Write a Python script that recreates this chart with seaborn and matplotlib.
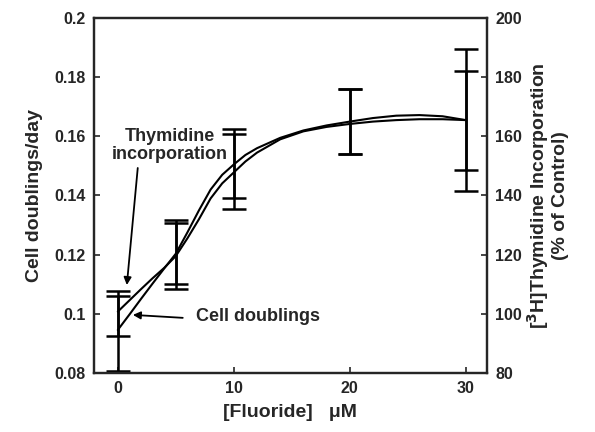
import matplotlib
matplotlib.use("Agg")
import matplotlib.pyplot as plt
import numpy as np
import pandas as pd
import seaborn as sns

# fitted curves (fluoride uM -> value)
curve_x = [0, 1, 2, 3, 4, 5, 6, 7, 8, 9, 10, 11, 12, 14, 16, 18, 20, 22, 24, 26, 28, 30]
cell_curve = [0.0945, 0.0997, 0.1050, 0.1102, 0.1153, 0.1203, 0.1275, 0.1350, 0.1420,
              0.1470, 0.1505, 0.1537, 0.1560, 0.1595, 0.1620, 0.1637, 0.1650, 0.1662,
              0.1670, 0.1672, 0.1668, 0.1655]
thym_curve = [100.7, 104.5, 108.3, 112.0, 115.5, 119.5, 125.5, 132.0, 139.0, 144.1,
              147.8, 151.5, 154.5, 159.0, 161.7, 163.2, 164.2, 165.0, 165.5, 165.8,
              165.8, 165.5]

# measured means with error bars
dose = [0, 5, 10, 20, 30]
cell_mean = [0.0933, 0.1200, 0.1490, 0.1650, 0.1655]
cell_err = [0.0128, 0.0117, 0.0136, 0.0110, 0.0240]
thym_mean = [100.1, 120.4, 150.0, 165.0, 165.3]
thym_err = [7.6, 10.3, 10.9, 11.0, 16.7]

sns.set_style("ticks")
plt.rcParams["font.family"] = ["Liberation Sans", "DejaVu Sans"]

fig = plt.figure(figsize=(5.95, 4.32), dpi=100)
ax = fig.add_axes([0.158, 0.137, 0.660, 0.821])
ax2 = ax.twinx()

curves = pd.DataFrame({"x": curve_x, "cell": cell_curve, "thym": thym_curve})
sns.lineplot(data=curves, x="x", y="cell", ax=ax, color="black", lw=1.5)
sns.lineplot(data=curves, x="x", y="thym", ax=ax2, color="black", lw=1.5)

ax.errorbar(dose, cell_mean, yerr=cell_err, fmt="none", ecolor="black",
            elinewidth=1.8, capsize=8.5, capthick=1.8)
ax2.errorbar(dose, thym_mean, yerr=thym_err, fmt="none", ecolor="black",
             elinewidth=1.8, capsize=8.5, capthick=1.8)

ax.set_xlim(-2.05, 31.8)
ax.set_ylim(0.08, 0.2)
ax2.set_ylim(80, 200)
ax.set_xticks([0, 10, 20, 30])
ax.set_yticks([0.08, 0.1, 0.12, 0.14, 0.16, 0.18, 0.2])
ax.set_yticklabels(["0.08", "0.1", "0.12", "0.14", "0.16", "0.18", "0.2"])
ax2.set_yticks([80, 100, 120, 140, 160, 180, 200])

for a in (ax, ax2):
    a.tick_params(direction="in", length=4, width=1.2, labelsize=11.5, pad=6)
    for lab in a.get_xticklabels() + a.get_yticklabels():
        lab.set_fontweight("bold")
    for s in a.spines.values():
        s.set_linewidth(1.6)

ax.set_xlabel("[Fluoride]   μM", fontsize=14, fontweight="bold", labelpad=6)
ax.set_ylabel("Cell doublings/day", fontsize=14, fontweight="bold", labelpad=8)
ax2.set_ylabel("[$^\\mathbf{3}$H]Thymidine Incorporation\n(% of Control)", fontsize=14,
               fontweight="bold", labelpad=2, linespacing=1.1)

# label arrows
ax.annotate("", xy=(0.78, 0.1097), xytext=(1.72, 0.1493),
            arrowprops=dict(arrowstyle="-|>", color="black", lw=1.3, shrinkA=0,
                            shrinkB=0, mutation_scale=11))
ax.annotate("", xy=(1.3, 0.0996), xytext=(5.6, 0.0986),
            arrowprops=dict(arrowstyle="-|>", color="black", lw=1.3, shrinkA=0,
                            shrinkB=0, mutation_scale=11))
ax.text(4.5, 0.157, "Thymidine\nincorporation", ha="center", va="center",
        fontsize=13, fontweight="bold", linespacing=1.05)
ax.text(12.1, 0.0989, "Cell doublings", ha="center", va="center",
        fontsize=13, fontweight="bold")

fig.savefig("out.png", dpi=100)
